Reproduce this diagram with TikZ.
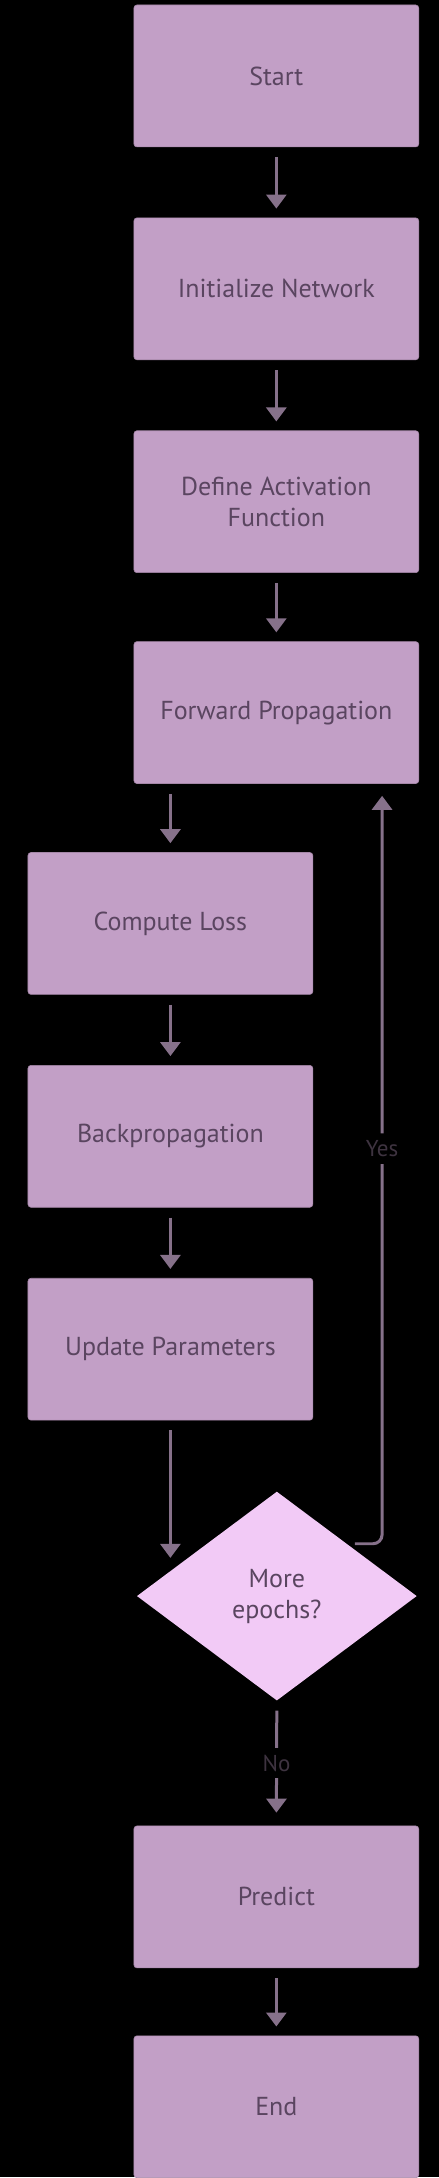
\documentclass[tikz,border=0pt]{standalone}
\usepackage{fontspec}
\setmainfont{PT Sans}
\usepackage{tikz}
\usetikzlibrary{arrows.meta,shapes.geometric}
\definecolor{boxfill}{HTML}{C29FC6}
\definecolor{diafill}{HTML}{F2CAF6}
\definecolor{boxtext}{HTML}{5A4560}
\definecolor{linkcol}{HTML}{86718A}
\definecolor{labtext}{HTML}{3E3340}

\begin{document}
\begin{tikzpicture}[x=1pt,y=-1pt,
    procbox/.style={rectangle,rounded corners=3pt,fill=boxfill,draw=boxfill!85!black,line width=0.6pt,
        minimum width=285pt,minimum height=142pt,text=boxtext,font=\fontsize{26}{31}\selectfont,align=center},
    decbox/.style={diamond,fill=diafill,minimum width=280pt,minimum height=209pt,inner sep=0pt,
        text=boxtext,font=\fontsize{26}{31}\selectfont,align=center},
    link/.style={draw=linkcol,line width=3pt,-{Triangle[width=20pt,length=14pt]},shorten <=10pt,shorten >=9pt},
    linklab/.style={fill=black,text=labtext,font=\fontsize{23}{27}\selectfont,inner sep=7pt}]
                      \fill[black] (0,0) rectangle (439,2178);
                      \node[procbox](start)at(276.5,76){Start};
                      \node[procbox](init)at(276.5,289){Initialize Network};
                      \node[procbox](actfn)at(276.5,502){Define Activation\\Function};
                      \node[procbox](fwd)at(276.5,713){Forward Propagation};
                      \node[procbox](loss)at(170.5,924){Compute Loss};
                      \node[procbox](bwd)at(170.5,1137){Backpropagation};
                      \node[procbox](upd)at(170.5,1350){Update Parameters};
                      \node[decbox](epochs)at(277,1597){More\\epochs?};
                      \node[procbox](pred)at(276.5,1898){Predict};
                      \node[procbox](fin)at(276.5,2108){End};
                      % main chain
                      \draw[link] (start)--(init);
                      \draw[link] (init)--(actfn);
                      \draw[link] (actfn)--(fwd);
                      \draw[link] (fwd.south -| loss.north)--(loss.north);
                      \draw[link] (loss)--(bwd);
                      \draw[link] (bwd)--(upd);
                      \draw[link,shorten >=12pt] (upd.south)--(upd.south |- epochs.166.7);
                      % loop back
                      \draw[link,rounded corners=9pt,shorten <=8pt,shorten >=12pt] (epochs.north east) -| ([xshift=-37pt]fwd.south east) node[linklab,pos=0.76]{Yes};
                      \draw[link,shorten >=13pt] (epochs.south)--(pred.north) node[linklab,midway]{No};
                      \draw[link] (pred)--(fin);
                  \end{tikzpicture}
\end{document}
